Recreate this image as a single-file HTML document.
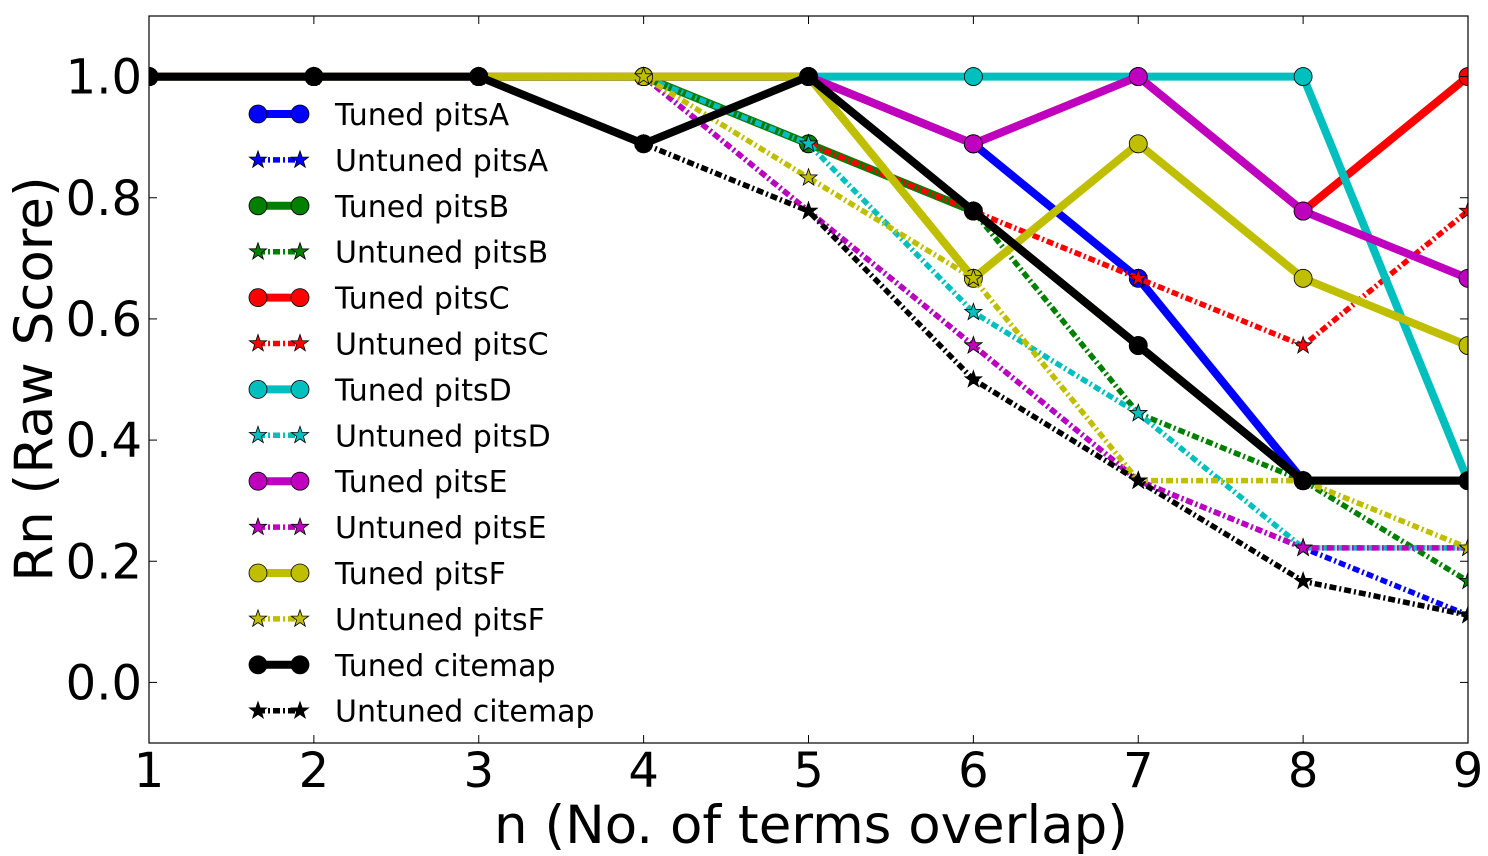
<!DOCTYPE html>
<html><head><meta charset="utf-8"><style>
body{margin:0;background:#fff;}
svg{display:block;font-family:"DejaVu Sans","Liberation Sans",sans-serif;}
</style></head><body>
<svg id="chart" width="1488" height="856"></svg>
<script>
const xCats=[1,2,3,4,5,6,7,8,9];
const yTicks=[0.0,0.2,0.4,0.6,0.8,1.0];
const seriesNames=["Tuned pitsA","Untuned pitsA","Tuned pitsB","Untuned pitsB","Tuned pitsC","Untuned pitsC","Tuned pitsD","Untuned pitsD","Tuned pitsE","Untuned pitsE","Tuned pitsF","Untuned pitsF","Tuned citemap","Untuned citemap"];
const tunedA=[1,1,1,1,1,0.889,0.667,0.333,0.333];
const untunedA=[1,1,1,1,0.778,0.556,0.333,0.222,0.111];
const tunedB=[1,1,1,1,0.889,0.778,0.556,0.333,0.333];
const untunedB=[1,1,1,1,0.889,0.778,0.444,0.333,0.167];
const tunedC=[1,1,1,1,1,0.889,1,0.778,1];
const untunedC=[1,1,1,1,0.889,0.778,0.667,0.556,0.778];
const tunedD=[1,1,1,1,1,1,1,1,0.333];
const untunedD=[1,1,1,1,0.889,0.611,0.444,0.222,0.222];
const tunedE=[1,1,1,1,1,0.889,1,0.778,0.667];
const untunedE=[1,1,1,1,0.778,0.556,0.333,0.222,0.222];
const tunedF=[1,1,1,1,1,0.667,0.889,0.667,0.556];
const untunedF=[1,1,1,1,0.833,0.667,0.333,0.333,0.222];
const tunedCite=[1,1,1,0.889,1,0.778,0.556,0.333,0.333];
const untunedCite=[1,1,1,0.889,0.778,0.5,0.333,0.167,0.111];
const allSeries=[tunedA,untunedA,tunedB,untunedB,tunedC,untunedC,tunedD,untunedD,tunedE,untunedE,tunedF,untunedF,tunedCite,untunedCite];
const colors=["#0000ff","#0000ff","#007f00","#007f00","#ff0000","#ff0000","#00bfbf","#00bfbf","#bf00bf","#bf00bf","#bfbf00","#bfbf00","#000000","#000000"];

const NS="http://www.w3.org/2000/svg";
const svg=document.getElementById("chart");
const L=149,R=1468,T=16,B=743,yMin=-0.1,yMax=1.1;
const xs=v=>L+(v-1)/(8)*(R-L);
const ys=v=>B-(v-yMin)/(yMax-yMin)*(B-T);
function el(tag,attrs,parent){const e=document.createElementNS(NS,tag);for(const k in attrs)e.setAttribute(k,attrs[k]);(parent||svg).appendChild(e);return e;}
function star(cx,cy,r){let p=[];for(let i=0;i<10;i++){const a=-Math.PI/2+i*Math.PI/5;const rr=i%2?r*0.4:r;p.push((cx+rr*Math.cos(a)).toFixed(1)+","+(cy+rr*Math.sin(a)).toFixed(1));}return p.join(" ");}

const clip=el("clipPath",{id:"pc"});el("rect",{x:L,y:T,width:R-L,height:B-T},clip);
const plot=el("g",{"clip-path":"url(#pc)"});



allSeries.forEach((vals,i)=>{
  const tuned=i%2===0;
  const g=el("g",{},plot);
  
  
  const pts=vals.map((v,j)=>xs(xCats[j])+","+ys(v)).join(" ");
  el("polyline",{points:pts,fill:"none",stroke:colors[i],"stroke-width":tuned?8:5.5,"stroke-dasharray":tuned?"none":"7,3,2,3","stroke-linejoin":"miter"},g);
  vals.forEach((v,j)=>{
    const m=tuned?el("circle",{cx:xs(xCats[j]),cy:ys(v),r:9,fill:colors[i],stroke:"#000","stroke-width":0.8},g)
                 :el("polygon",{points:star(xs(xCats[j]),ys(v),9),fill:colors[i],stroke:"#000","stroke-width":0.8},g);
    
    
  });
});

const frame=el("rect",{x:L,y:T,width:R-L,height:B-T,fill:"none",stroke:"#000","stroke-width":1.2});



xCats.forEach(v=>{
  el("line",{x1:xs(v),x2:xs(v),y1:B,y2:B-8,stroke:"#000"});
  el("line",{x1:xs(v),x2:xs(v),y1:T,y2:T+8,stroke:"#000"});
  const t=el("text",{x:xs(v),y:787,"font-size":48,"text-anchor":"middle"});t.textContent=v;
  
  
});
yTicks.forEach(v=>{
  el("line",{x1:L,x2:L+8,y1:ys(v),y2:ys(v),stroke:"#000"});
  el("line",{x1:R,x2:R-8,y1:ys(v),y2:ys(v),stroke:"#000"});
  const t=el("text",{x:142,y:ys(v)+17,"font-size":48,"text-anchor":"end"});t.textContent=v.toFixed(1);
  
  
});
const xt=el("text",{x:811,y:843,"font-size":53,"text-anchor":"middle"});xt.textContent="n (No. of terms overlap)";


const yt=el("text",{x:0,y:0,"font-size":53,"text-anchor":"middle",transform:"translate(52,379) rotate(-90)"});yt.textContent="Rn (Raw Score)";



const leg=el("g",{});


seriesNames.forEach((n,i)=>{
  const y=114+i*45.9, tuned=i%2===0;
  const g=el("g",{},leg);
  
  
  el("line",{x1:258,x2:300,y1:y,y2:y,stroke:colors[i],"stroke-width":tuned?8:5.5,"stroke-dasharray":tuned?"none":"7,3,2,3"},g);
  [258,300].forEach(x=>{
    if(tuned)el("circle",{cx:x,cy:y,r:9,fill:colors[i],stroke:"#000","stroke-width":0.8},g);
    else el("polygon",{points:star(x,y,9),fill:colors[i],stroke:"#000","stroke-width":0.8},g);
  });
  const t=el("text",{x:335,y:y+11,"font-size":30},g);t.textContent=n;
});
</script>
</body></html>
